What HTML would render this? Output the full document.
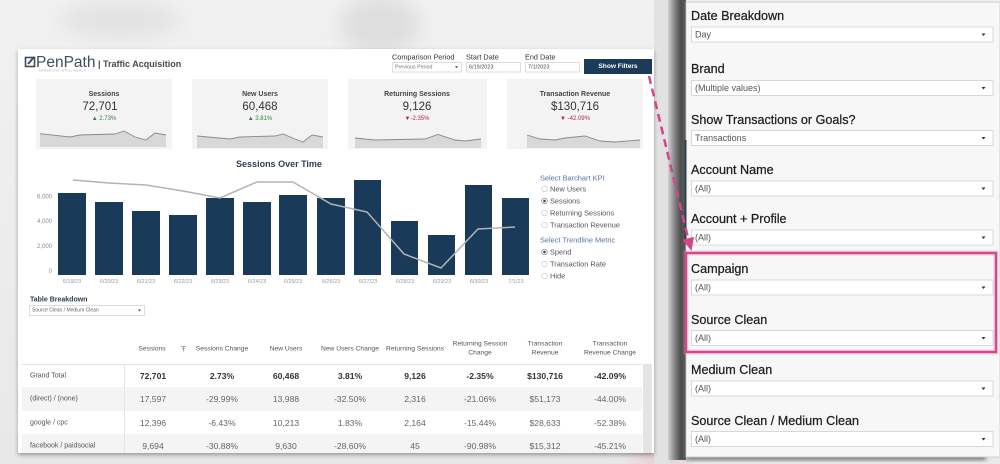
<!DOCTYPE html>
<html><head><meta charset="utf-8">
<style>
*{margin:0;padding:0;box-sizing:border-box}
html,body{width:1000px;height:464px;overflow:hidden;background:#ececec}
svg{position:absolute;left:0;top:0;display:block}
</style></head>
<body>
<svg width="1000" height="464" viewBox="0 0 1000 464" xmlns="http://www.w3.org/2000/svg" font-family="Liberation Sans, sans-serif">
<defs>
<filter id="sh" x="-5%" y="-5%" width="110%" height="115%"><feDropShadow dx="0" dy="2" stdDeviation="2" flood-color="#000" flood-opacity="0.35"/></filter>
<filter id="bl" x="-20%" y="-50%" width="140%" height="200%"><feGaussianBlur stdDeviation="2"/></filter>
<filter id="bl8" x="-50%" y="-50%" width="200%" height="200%"><feGaussianBlur stdDeviation="10"/></filter>
<linearGradient id="dk" x1="0" x2="1" y1="0" y2="0">
<stop offset="0" stop-color="#d0d0d0"/><stop offset="0.35" stop-color="#8a8a8a"/><stop offset="0.7" stop-color="#4e4e4e"/><stop offset="1" stop-color="#5c5c5c"/></linearGradient>
<linearGradient id="bg" x1="0" x2="0" y1="0" y2="1"><stop offset="0" stop-color="#f1f1f1"/><stop offset="1" stop-color="#e8e8e8"/></linearGradient>
</defs>

<!-- background -->
<rect x="0" y="0" width="1000" height="464" fill="url(#bg)"/>
<ellipse cx="380" cy="25" rx="40" ry="30" fill="#d6d6d6" filter="url(#bl8)" opacity="0.7"/>
<ellipse cx="120" cy="20" rx="60" ry="18" fill="#e2e2e2" filter="url(#bl8)"/>
<ellipse cx="660" cy="440" rx="30" ry="30" fill="#e6c4c8" filter="url(#bl8)" opacity="0.8"/>
<rect x="654" y="0" width="16" height="464" fill="#e2e2e2"/>

<!-- left dashboard panel -->
<rect x="18" y="49" width="636" height="404" fill="#ffffff" filter="url(#sh)"/>

<!-- logo -->
<rect x="25.5" y="57.5" width="9" height="9" fill="none" stroke="#3e4c5e" stroke-width="1.6"/>
<path d="M28 64 L34 57" stroke="#3e4c5e" stroke-width="2"/>
<text x="36" y="67" font-size="15.5" fill="#3e4c5e">PenPath</text>
<text x="39" y="71.5" font-size="3" fill="#aaaaaa" letter-spacing="0.3">MARKETING INTELLIGENCE</text>
<text x="98" y="64" font-size="9" font-weight="bold" fill="#4a4a4a" dominant-baseline="central">| Traffic Acquisition</text>

<!-- header controls -->
<text x="392" y="57" font-size="7.3" fill="#333" dominant-baseline="central">Comparison Period</text>
<rect x="392.5" y="62.5" width="69" height="9.5" fill="#fff" stroke="#cfcfcf" stroke-width="0.7"/>
<text x="395" y="67.3" font-size="5.3" fill="#777" dominant-baseline="central">Previous Period</text>
<polygon points="455,66.3 458,66.3 456.5,68.3" fill="#444"/>
<text x="466" y="57" font-size="7.3" fill="#333" dominant-baseline="central">Start Date</text>
<rect x="466.5" y="62.5" width="54" height="9.5" fill="#fff" stroke="#cfcfcf" stroke-width="0.7"/>
<text x="469" y="67.3" font-size="5.5" fill="#444" dominant-baseline="central">6/19/2023</text>
<text x="525" y="57" font-size="7.3" fill="#333" dominant-baseline="central">End Date</text>
<rect x="525.5" y="62.5" width="54" height="9.5" fill="#fff" stroke="#cfcfcf" stroke-width="0.7"/>
<text x="528" y="67.3" font-size="5.5" fill="#444" dominant-baseline="central">7/1/2023</text>
<rect x="584" y="59" width="68" height="15" fill="#1c3a5a"/>
<text x="618" y="66.5" font-size="6.6" font-weight="bold" fill="#fff" text-anchor="middle" dominant-baseline="central">Show Filters</text>

<!-- KPI cards -->
<rect x="36" y="79" width="136" height="70" fill="#f3f3f3"/>
<rect x="192" y="79" width="136" height="70" fill="#f3f3f3"/>
<rect x="348" y="79" width="139" height="70" fill="#f3f3f3"/>
<rect x="507" y="79" width="136" height="70" fill="#f3f3f3"/>

<g text-anchor="middle" dominant-baseline="central">
<text x="104" y="94.5" font-size="7" font-weight="bold" fill="#444">Sessions</text>
<text x="100" y="107" font-size="11.5" fill="#333">72,701</text>
<text x="104" y="119" font-size="6" fill="#3a7d44">▲ 2.73%</text>

<text x="260" y="94.5" font-size="7" font-weight="bold" fill="#444">New Users</text>
<text x="260" y="107" font-size="11.5" fill="#333">60,468</text>
<text x="260" y="119" font-size="6" fill="#3a7d44">▲ 3.81%</text>

<text x="417" y="94.5" font-size="7" font-weight="bold" fill="#444">Returning Sessions</text>
<text x="417" y="107" font-size="11.5" fill="#333">9,126</text>
<text x="417" y="119" font-size="6" fill="#b02a4a">▼-2.35%</text>

<text x="575" y="94.5" font-size="7" font-weight="bold" fill="#444">Transaction Revenue</text>
<text x="575" y="107" font-size="11.5" fill="#333">$130,716</text>
<text x="575" y="119" font-size="6" fill="#b02a4a">▼ -42.09%</text>
</g>

<!-- sparklines -->
<g fill="#d8d8d8" stroke="none">
<polygon points="40,133.7 70,137 80,135 115,134 124,131 135,137 146,140 155,133 166,135 166,147 40,147"/>
<polygon points="197,136 230,139 240,137 275,136 283,134 295,139 303,142 312,135 323,137 323,148 197,148"/>
<polygon points="355,138 375,140 425,139 438,134.5 455,140 465,141 481,139 481,148 355,148"/>
<polygon points="527,135 540,139 555,140 565,138 575,137 585,136 600,141 615,142 640,140 640,148 527,148"/>
</g>
<g fill="none" stroke="#8a8a8a" stroke-width="0.9">
<polyline points="40,133.7 70,137 80,135 115,134 124,131 135,137 146,140 155,133 166,135"/>
<polyline points="197,136 230,139 240,137 275,136 283,134 295,139 303,142 312,135 323,137"/>
<polyline points="355,138 375,140 425,139 438,134.5 455,140 465,141 481,139"/>
<polyline points="527,135 540,139 555,140 565,138 575,137 585,136 600,141 615,142 640,140"/>
</g>

<!-- chart -->
<text x="279" y="164" font-size="9" font-weight="bold" fill="#2b3f55" text-anchor="middle" dominant-baseline="central">Sessions Over Time</text>
<g font-size="6" fill="#8a8a8a" text-anchor="end" dominant-baseline="central">
<text x="52" y="197.5">6,000</text>
<text x="52" y="222">4,000</text>
<text x="52" y="247">2,000</text>
<text x="52" y="272">0</text>
</g>
<g fill="#1a3a5a">
<rect x="58" y="193" width="28" height="82"/>
<rect x="95" y="202" width="28" height="73"/>
<rect x="132" y="211" width="28" height="64"/>
<rect x="169" y="215" width="28" height="60"/>
<rect x="206" y="198" width="28" height="77"/>
<rect x="243" y="202" width="28" height="73"/>
<rect x="279" y="195" width="28" height="80"/>
<rect x="317" y="198" width="28" height="77"/>
<rect x="354" y="180" width="27" height="95"/>
<rect x="391" y="221" width="27" height="54"/>
<rect x="428" y="235" width="27" height="40"/>
<rect x="465" y="185" width="27" height="90"/>
<rect x="502" y="198" width="27" height="77"/>
</g>
<polyline points="73,180 109,183 146,185 183,191 220,198 257,182 293,182 331,204 367,212 404,254 441,268 478,229 515,227" fill="none" stroke="#b3b3b3" stroke-width="1.5"/>
<g font-size="5.5" fill="#9a9a9a" text-anchor="middle" dominant-baseline="central">
<text x="72" y="282">6/19/23</text>
<text x="109" y="282">6/20/23</text>
<text x="146" y="282">6/21/23</text>
<text x="183" y="282">6/22/23</text>
<text x="220" y="282">6/23/23</text>
<text x="257" y="282">6/24/23</text>
<text x="293" y="282">6/25/23</text>
<text x="331" y="282">6/26/23</text>
<text x="368" y="282">6/27/23</text>
<text x="405" y="282">6/28/23</text>
<text x="442" y="282">6/29/23</text>
<text x="479" y="282">6/30/23</text>
<text x="516" y="282">7/1/23</text>
</g>

<!-- legend -->
<g font-size="7.4" dominant-baseline="central">
<text x="540" y="178" fill="#5876a2">Select Barchart KPI</text>
<text x="550" y="189" fill="#555">New Users</text>
<text x="550" y="201" fill="#555">Sessions</text>
<text x="550" y="213" fill="#555">Returning Sessions</text>
<text x="550" y="225" fill="#555">Transaction Revenue</text>
<text x="540" y="240" fill="#5876a2">Select Trendline Metric</text>
<text x="550" y="252" fill="#555">Spend</text>
<text x="550" y="264" fill="#555">Transaction Rate</text>
<text x="550" y="276" fill="#555">Hide</text>
</g>
<g fill="#fff" stroke="#c4c4c4" stroke-width="0.6">
<circle cx="544.5" cy="189" r="2.8"/><circle cx="544.5" cy="201" r="2.8" stroke="#777"/><circle cx="544.5" cy="213" r="2.8"/><circle cx="544.5" cy="225" r="2.8"/>
<circle cx="544.5" cy="252" r="2.8" stroke="#777"/><circle cx="544.5" cy="264" r="2.8"/><circle cx="544.5" cy="276" r="2.8"/>
</g>
<circle cx="544.5" cy="201" r="1.3" fill="#444"/>
<circle cx="544.5" cy="252" r="1.3" fill="#444"/>

<!-- table breakdown -->
<text x="30" y="300" font-size="7" font-weight="bold" fill="#2b3f55" dominant-baseline="central">Table Breakdown</text>
<rect x="29.5" y="305.5" width="115" height="10" fill="#fff" stroke="#cfcfcf" stroke-width="0.7"/>
<text x="32" y="310.5" font-size="5" fill="#666" dominant-baseline="central">Source Clean / Medium Clean</text>
<polygon points="138,309.5 141,309.5 139.5,311.5" fill="#444"/>

<!-- table -->
<rect x="22" y="387" width="620" height="24" fill="#f4f4f4"/>
<rect x="22" y="434" width="620" height="19" fill="#f4f4f4"/>
<line x1="22" y1="364.5" x2="642" y2="364.5" stroke="#e2e2e2" stroke-width="1"/>
<line x1="124.5" y1="364" x2="124.5" y2="453" stroke="#e6e6e6" stroke-width="1"/>
<rect x="643" y="364" width="9" height="89" fill="#e4e4e4"/>

<g font-size="6.7" fill="#555" text-anchor="middle" dominant-baseline="central">
<text x="152" y="349">Sessions</text>
<text x="222" y="349">Sessions Change</text>
<text x="286" y="349">New Users</text>
<text x="350" y="349">New Users Change</text>
<text x="415" y="349">Returning Sessions</text>
<text x="480" y="344">Returning Session</text>
<text x="480" y="353">Change</text>
<text x="545" y="344">Transaction</text>
<text x="545" y="353">Revenue</text>
<text x="610" y="344">Transaction</text>
<text x="610" y="353">Revenue Change</text>
</g>
<g stroke="#888" stroke-width="0.7">
<line x1="181" y1="346.5" x2="186" y2="346.5"/>
<line x1="182" y1="348.5" x2="185" y2="348.5"/>
<line x1="183.5" y1="346.5" x2="183.5" y2="351.5"/>
</g>

<g font-size="7" fill="#555" dominant-baseline="central">
<text x="30" y="376">Grand Total</text>
<text x="30" y="399">(direct) / (none)</text>
<text x="30" y="423">google / cpc</text>
<text x="30" y="446">facebook / paidsocial</text>
</g>
<g font-size="8.6" text-anchor="middle" dominant-baseline="central">
<g fill="#333" font-weight="bold" stroke="none">
<text x="153" y="376">72,701</text>
<text x="222" y="376">2.73%</text>
<text x="286" y="376">60,468</text>
<text x="350" y="376">3.81%</text>
<text x="415" y="376">9,126</text>
<text x="480" y="376">-2.35%</text>
<text x="545" y="376">$130,716</text>
<text x="610" y="376">-42.09%</text>
</g>
<g fill="#666">
<text x="153" y="399">17,597</text>
<text x="222" y="399">-29.99%</text>
<text x="286" y="399">13,988</text>
<text x="350" y="399">-32.50%</text>
<text x="415" y="399">2,316</text>
<text x="480" y="399">-21.06%</text>
<text x="545" y="399">$51,173</text>
<text x="610" y="399">-44.00%</text>

<text x="153" y="423">12,396</text>
<text x="222" y="423">-6.43%</text>
<text x="286" y="423">10,213</text>
<text x="350" y="423">1.83%</text>
<text x="415" y="423">2,164</text>
<text x="480" y="423">-15.44%</text>
<text x="545" y="423">$28,633</text>
<text x="610" y="423">-52.38%</text>

<text x="153" y="446">9,694</text>
<text x="222" y="446">-30.88%</text>
<text x="286" y="446">9,630</text>
<text x="350" y="446">-28.60%</text>
<text x="415" y="446">45</text>
<text x="480" y="446">-90.98%</text>
<text x="545" y="446">$15,312</text>
<text x="610" y="446">-45.21%</text>
</g>
</g>

<!-- right panel shadow -->
<rect x="668" y="0" width="18" height="460" fill="url(#dk)"/>
<rect x="686" y="455" width="300" height="5" fill="#555" filter="url(#bl)" opacity="0.8"/>

<!-- right filter panel -->
<rect x="686" y="2" width="314" height="455" fill="#f7f7f7" stroke="#c6c6c6" stroke-width="0.8"/>
<line x1="685.5" y1="140" x2="685.5" y2="242" stroke="#2f3f52" stroke-width="2"/>

<g font-size="12.6" fill="#1e1e1e" stroke="#1e1e1e" stroke-width="0.25" dominant-baseline="central">
<text x="691" y="16">Date Breakdown</text>
<text x="691" y="69">Brand</text>
<text x="691" y="120">Show Transactions or Goals?</text>
<text x="691" y="170">Account Name</text>
<text x="691" y="219">Account + Profile</text>
<text x="691" y="269">Campaign</text>
<text x="691" y="320">Source Clean</text>
<text x="691" y="370">Medium Clean</text>
<text x="691" y="421">Source Clean / Medium Clean</text>
</g>
<g fill="#fff" stroke="#d0d0d0" stroke-width="0.8">
<rect x="691.5" y="27" width="301.5" height="15"/>
<rect x="691.5" y="80.5" width="301.5" height="15"/>
<rect x="691.5" y="130.5" width="301.5" height="15"/>
<rect x="691.5" y="181" width="301.5" height="15"/>
<rect x="691.5" y="230" width="301.5" height="15"/>
<rect x="691.5" y="280" width="301.5" height="15"/>
<rect x="691.5" y="330.5" width="301.5" height="15"/>
<rect x="691.5" y="381" width="301.5" height="15"/>
<rect x="691.5" y="431.5" width="301.5" height="15"/>
</g>
<g font-size="9" fill="#555" dominant-baseline="central">
<text x="695" y="34.5">Day</text>
<text x="695" y="88">(Multiple values)</text>
<text x="695" y="138">Transactions</text>
<text x="695" y="188.5">(All)</text>
<text x="695" y="237.5">(All)</text>
<text x="695" y="287.5">(All)</text>
<text x="695" y="338">(All)</text>
<text x="695" y="388.5">(All)</text>
<text x="695" y="439">(All)</text>
</g>
<g fill="#333">
<polygon points="981.5,33.5 985.5,33.5 983.5,36"/>
<polygon points="981.5,87 985.5,87 983.5,89.5"/>
<polygon points="981.5,137 985.5,137 983.5,139.5"/>
<polygon points="981.5,187.5 985.5,187.5 983.5,190"/>
<polygon points="981.5,236.5 985.5,236.5 983.5,239"/>
<polygon points="981.5,286.5 985.5,286.5 983.5,289"/>
<polygon points="981.5,337 985.5,337 983.5,339.5"/>
<polygon points="981.5,387.5 985.5,387.5 983.5,390"/>
<polygon points="981.5,438 985.5,438 983.5,440.5"/>
</g>

<!-- pink highlight box -->
<rect x="686" y="253" width="310" height="99" fill="none" stroke="#e58ab5" stroke-width="5" opacity="0.35"/>
<rect x="686" y="253" width="310" height="99" fill="none" stroke="#d6488c" stroke-width="2.4"/>

<!-- dashed arrow -->
<line x1="649" y1="76" x2="688" y2="238" stroke="#d2478a" stroke-width="2.5" stroke-dasharray="8 5"/>
<polygon points="682.4,239.7 694,236.9 691.5,251" fill="#d2478a"/>
</svg>
</body></html>
